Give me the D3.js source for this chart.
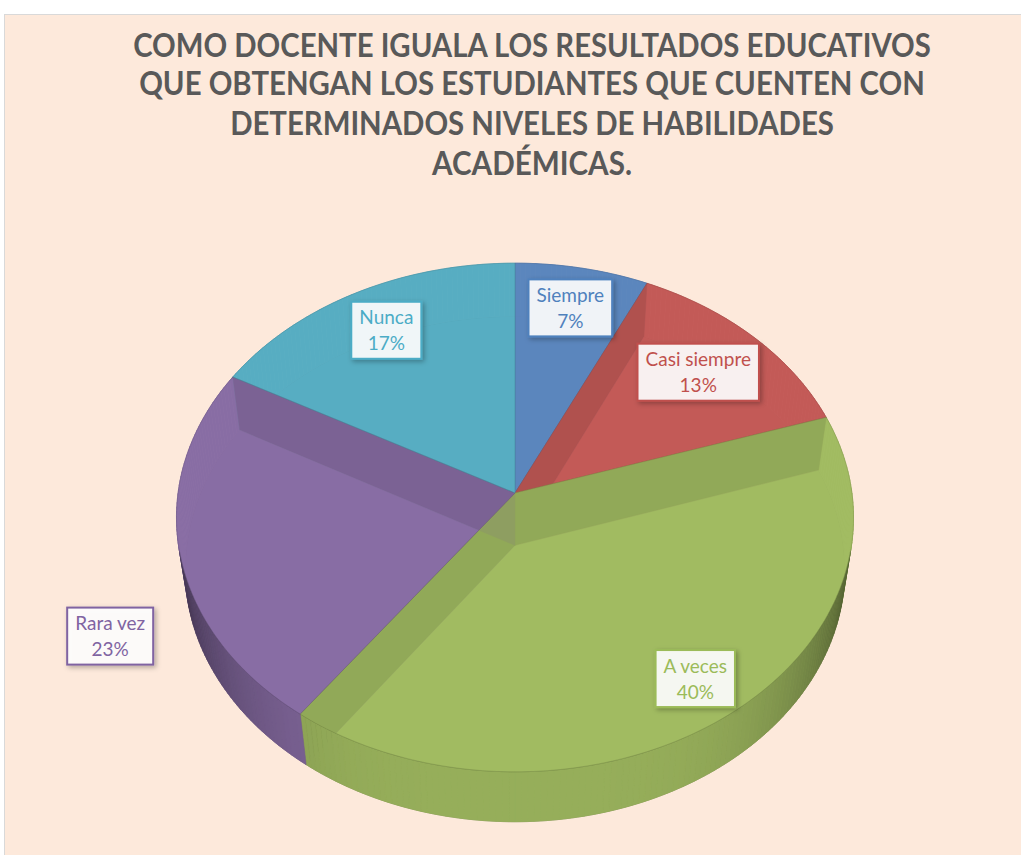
<!DOCTYPE html>
<html>
<head>
<meta charset="utf-8">
<script src="https://cdn.jsdelivr.net/npm/d3@7"></script>
<style>
  body { margin: 0; background: #fff; }
</style>
</head>
<body>
<svg id="chart" width="1021" height="855"></svg>
<script>
// data
var categories = ["Siempre", "Casi siempre", "A veces", "Rara vez", "Nunca"];
var values = [7, 13, 40, 23, 17];
var colors = ["#5c87bf", "#c55b58", "#a3bd62", "#8a6ea6", "#58afc4"];
var textColors = ["#4f81bd", "#c0504d", "#9bbb59", "#8064a2", "#4bacc6"];
var titleLines = [
    "COMO DOCENTE IGUALA LOS RESULTADOS EDUCATIVOS",
    "QUE OBTENGAN LOS ESTUDIANTES QUE CUENTEN CON",
    "DETERMINADOS NIVELES DE HABILIDADES",
    "ACADÉMICAS."
];

// label layout (radius in pie units, angle shift in degrees)
var labelR = [0.81, 0.76, 0.85, 1.26, 0.80];
var labelShift = [0, 0, 0, -12.7, 0];

var svg = d3.select("#chart");
var W = 1021, H = 855;

// chart area
svg.append("rect")
    .attr("x", 4.5).attr("y", 14.5)
    .attr("width", W - 4).attr("height", H - 14)
    .attr("fill", "#fde9db")
    .attr("stroke", "#d9d9d9")
    .attr("stroke-width", 1);

// title, squeezed to the width of the original narrow font
var titleW = [798, 786, 604, 200];
var titleY = [57, 95, 135, 175];
var title = svg.append("g").selectAll("text")
    .data(titleLines)
    .join("text")
    .attr("x", 0)
    .attr("y", 0)
    .attr("text-anchor", "middle")
    .attr("font-family", "Lato, 'Open Sans', sans-serif")
    .attr("font-weight", "bold")
    .attr("font-size", 33)
    .attr("fill", "#595959")
    .text(function(d) { return d; });
title.attr("transform", function(d, i) {
    var sx = titleW[i] / this.getComputedTextLength();
    return "translate(532," + titleY[i] + ") scale(" + sx + ",1)";
});

// 3d projection of the pie
var cx = 515, cy = 493, f = 2325, D = 6.9, tilt = 48.4 * Math.PI / 180, thick = 0.24;
var sn = Math.sin(tilt), cs = Math.cos(tilt);

function proj(r, a, h) {
    var u = r * Math.sin(a), v = r * Math.cos(a);
    var z = D + v * cs - h * sn;
    return [cx + f * u / z, cy - f * (v * sn + h * cs) / z];
}
function arcPts(a0, a1, h) {
    var n = Math.max(2, Math.ceil((a1 - a0) / (Math.PI / 180)));
    var pts = [];
    for (var k = 0; k <= n; k++) pts.push(proj(1, a0 + (a1 - a0) * k / n, h));
    return pts;
}
var line = d3.line();

var arcs = d3.pie().sort(null).value(function(d) { return d; })(values);

function shade(c, k) {
    return d3.interpolateRgb(c, "#000")(k);
}

var gBottom = svg.append("g");
var gBack = svg.append("g");
var gRadial = svg.append("g");
var gFront = svg.append("g");
var gTop = svg.append("g");

// bottoms
arcs.forEach(function(d, i) {
    var pts = [proj(0, 0, -thick)].concat(arcPts(d.startAngle, d.endAngle, -thick));
    gBottom.append("path")
        .attr("d", line(pts) + "Z")
        .attr("fill", shade(colors[i], 0.04));
    gBottom.append("path")
        .attr("d", line(arcPts(d.startAngle, d.endAngle, -thick)))
        .attr("fill", "none")
        .attr("stroke", shade(colors[i], 0.4))
        .attr("stroke-opacity", 0.5)
        .attr("stroke-width", 1);
});

// outer sides, split in 1 degree pieces
var limit = -1 / (D * cs);
arcs.forEach(function(d, i) {
    var n = Math.ceil((d.endAngle - d.startAngle) / (Math.PI / 180));
    for (var k = 0; k < n; k++) {
        var a = d.startAngle + (d.endAngle - d.startAngle) * k / n;
        var b = d.startAngle + (d.endAngle - d.startAngle) * (k + 1) / n;
        var m = (a + b) / 2;
        var front = Math.cos(m) < limit;
        var kk = front ? 0.08 + 0.45 * Math.pow(Math.abs(Math.sin(m)), 4) : 0.04;
        var c = shade(colors[i], kk);
        var pts = [proj(1, a, 0), proj(1, b, 0), proj(1, b, -thick), proj(1, a, -thick)];
        (front ? gFront : gBack).append("path")
            .attr("d", line(pts) + "Z")
            .attr("fill", c)
            .attr("stroke", c)
            .attr("stroke-width", 0.6);
    }
});

// inner (cut) faces that look away from the viewer, seen through the glassy top
var camV = -D * cs;
arcs.forEach(function(d, i) {
    [[d.startAngle, -1], [d.endAngle, 1]].forEach(function(e) {
        var a = e[0], sgn = e[1];
        var nv = -sgn * Math.sin(a);
        if (nv * camV >= -1e-6) return;
        var pts = [proj(0, a, 0), proj(1, a, 0), proj(1, a, -thick), proj(0, a, -thick)];
        gRadial.append("path")
            .attr("d", line(pts) + "Z")
            .attr("fill", shade(colors[i], 0.45))
            .attr("stroke", shade(colors[i], 0.45))
            .attr("stroke-width", 0.5);
    });
});

// front rim line
gFront.append("path")
    .attr("d", line(arcPts(Math.acos(limit), 2 * Math.PI - Math.acos(limit), 0)))
    .attr("fill", "none")
    .attr("stroke", "#000")
    .attr("stroke-opacity", 0.15)
    .attr("stroke-width", 1);

// tops
arcs.forEach(function(d, i) {
    var pts = [proj(0, 0, 0)].concat(arcPts(d.startAngle, d.endAngle, 0));
    gTop.append("path")
        .attr("d", line(pts) + "Z")
        .attr("fill", colors[i])
        .attr("fill-opacity", 0.76)
        .attr("stroke", shade(colors[i], 0.2))
        .attr("stroke-opacity", 0.6)
        .attr("stroke-width", 0.8);
});

// labels
var defs = svg.append("defs");
var flt = defs.append("filter").attr("id", "shadow")
    .attr("x", "-20%").attr("y", "-20%").attr("width", "150%").attr("height", "160%");
flt.append("feDropShadow")
    .attr("dx", 2).attr("dy", 2).attr("stdDeviation", 2.5)
    .attr("flood-color", "#000").attr("flood-opacity", 0.3);

var total = d3.sum(values);
var gLab = svg.append("g");
arcs.forEach(function(d, i) {
    var mid = (d.startAngle + d.endAngle) / 2 + labelShift[i] * Math.PI / 180;
    var p = proj(labelR[i], mid, 0);
    var g = gLab.append("g").attr("transform", "translate(" + p[0] + "," + p[1] + ")");
    var box = g.append("rect");
    var t = g.append("text")
        .attr("text-anchor", "middle")
        .attr("font-family", "Lato, 'Open Sans', sans-serif")
        .attr("font-size", 19)
        .attr("fill", textColors[i]);
    t.append("tspan").attr("x", 0).attr("y", -6).text(categories[i]);
    t.append("tspan").attr("x", 0).attr("y", 20)
        .text(Math.round(values[i] / total * 100) + "%");
    var bb = t.node().getBBox();
    var w = bb.width + 16, h = 57;
    box.attr("x", -w / 2).attr("y", -h / 2)
        .attr("width", w).attr("height", h)
        .attr("fill", "#fff")
        .attr("fill-opacity", 0.9)
        .attr("stroke", textColors[i])
        .attr("stroke-width", 2)
        .attr("filter", "url(#shadow)");
});
</script>
</body>
</html>
